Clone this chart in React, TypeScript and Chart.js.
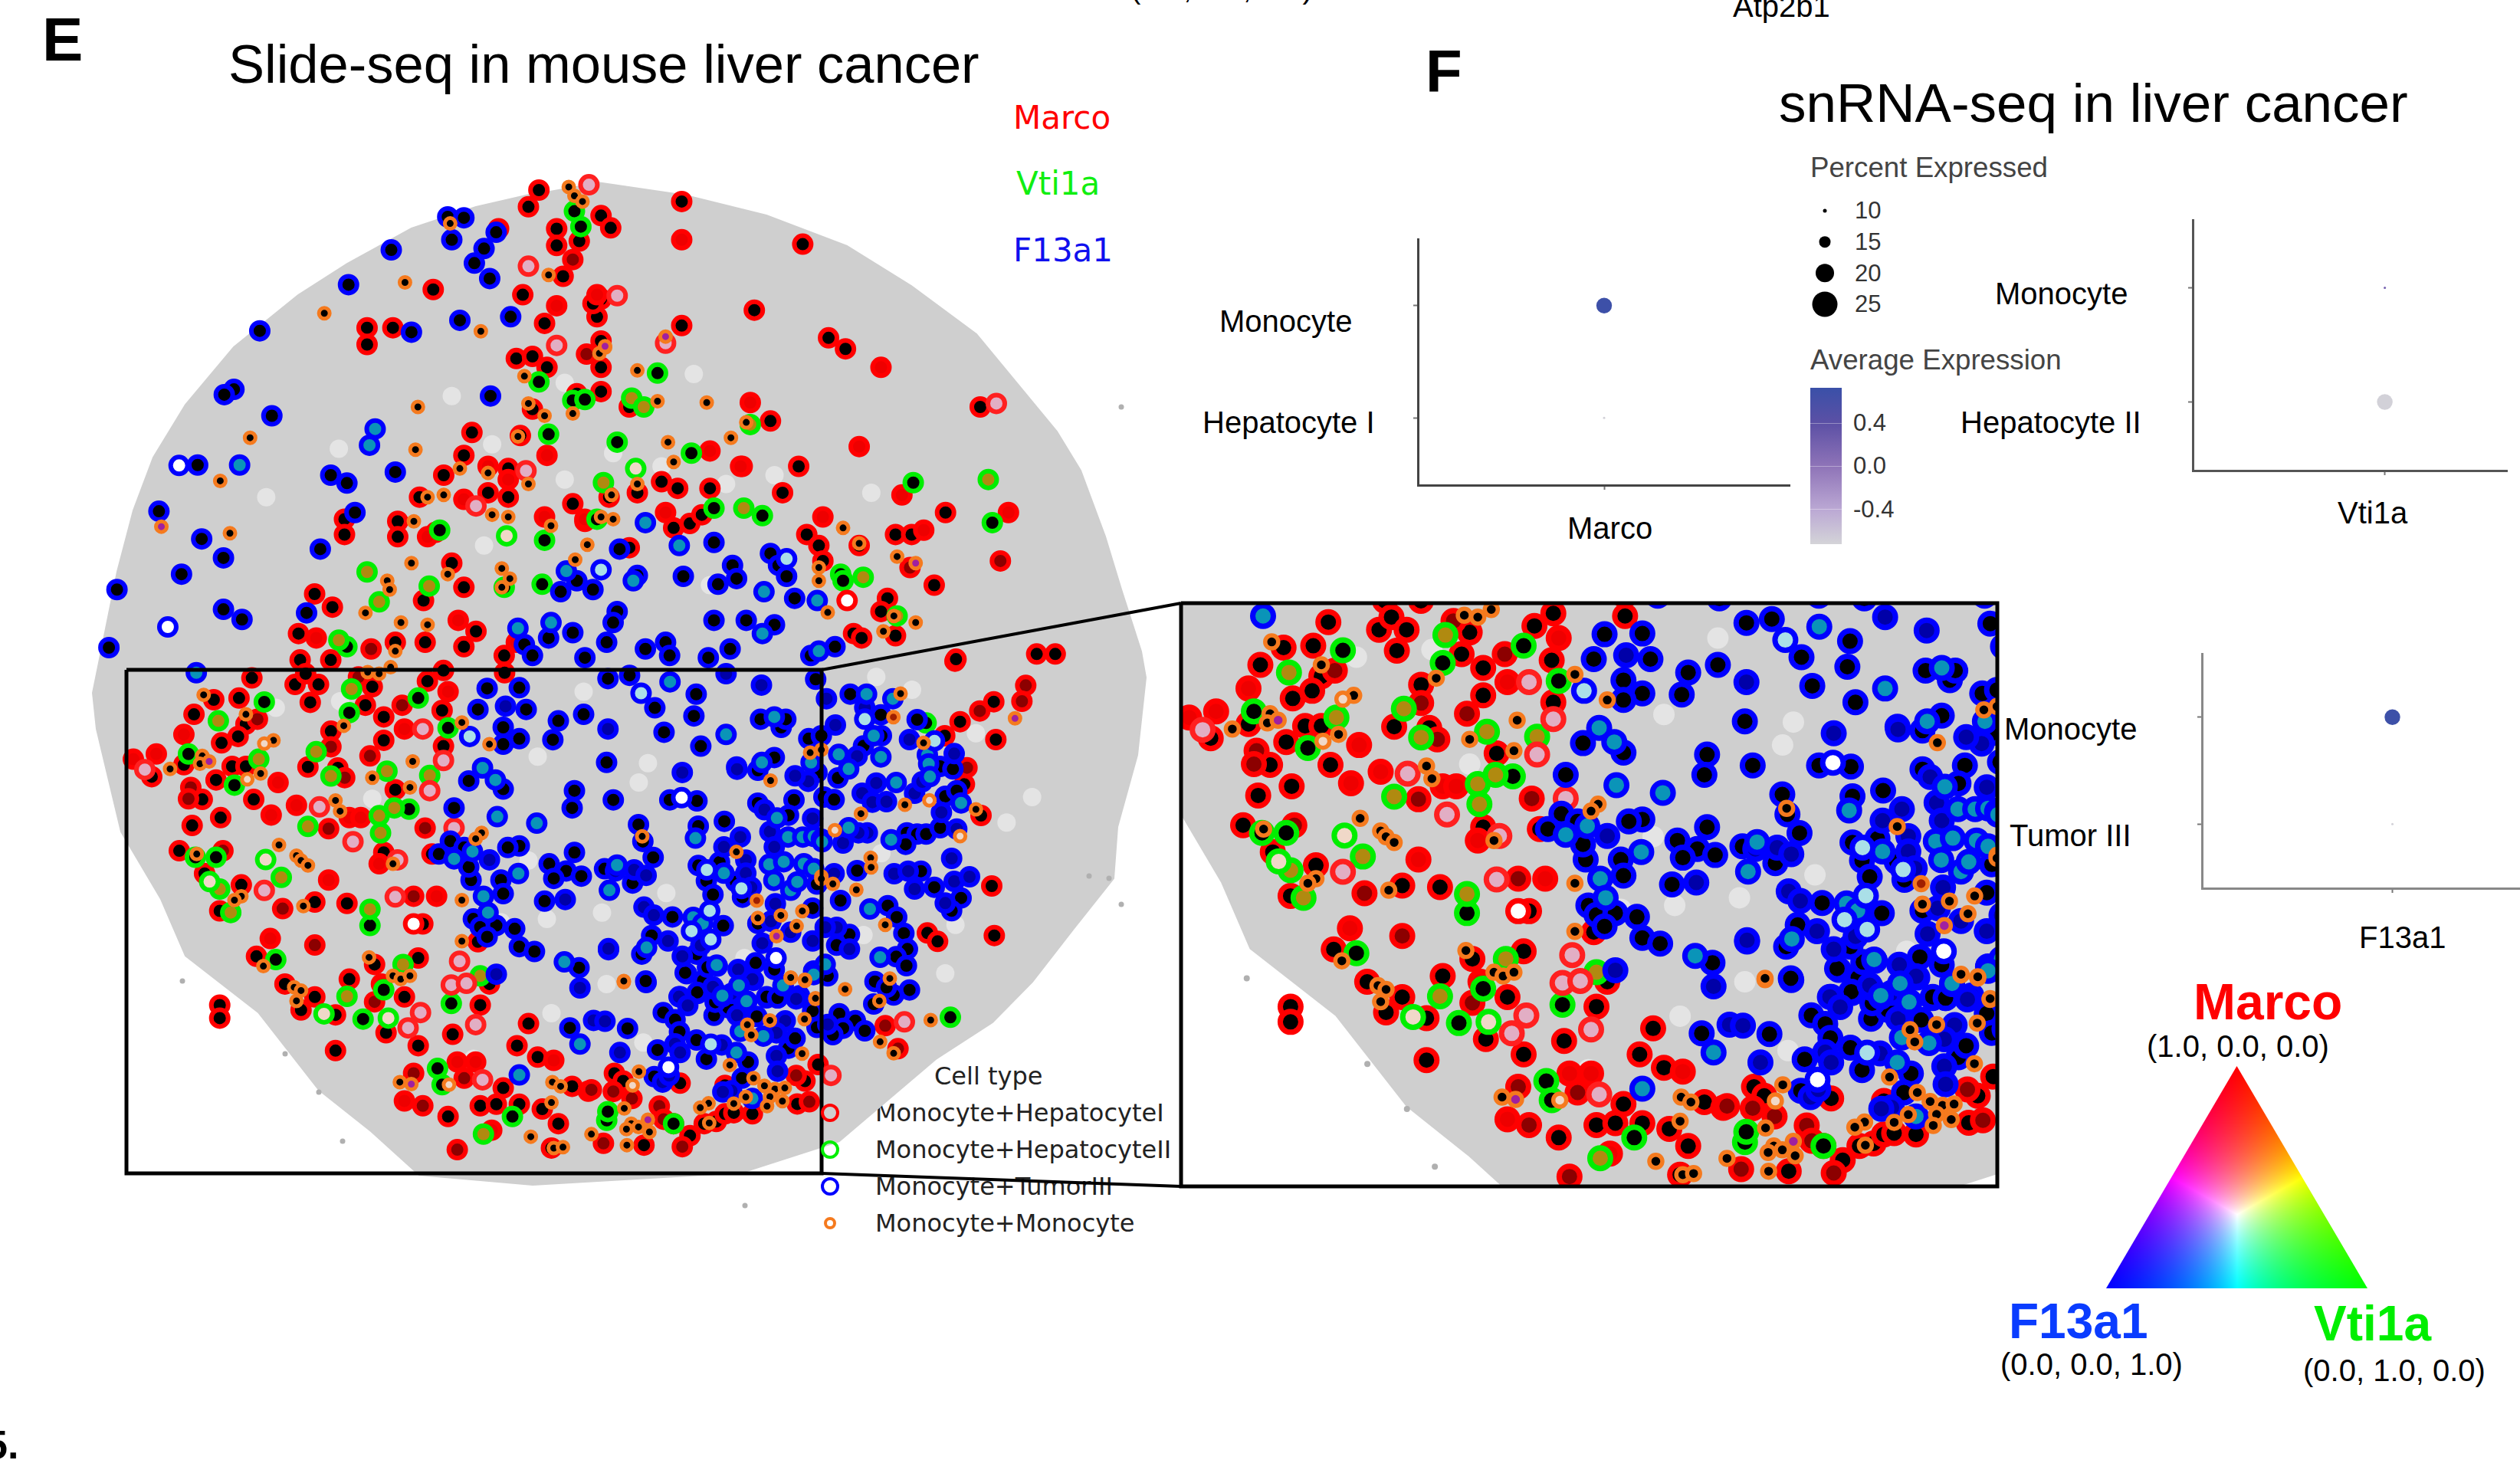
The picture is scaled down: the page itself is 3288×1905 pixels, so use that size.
import React, { useEffect, useRef } from 'react';
import { Chart, registerables } from 'chart.js';
Chart.register(...registerables);

// ---------- readings from the picture (flat x,y lists), grouped by where they were read ----------
const redBlackTop = [668,432,655,470,845,458,745,490,757,518,690,520,690,558,718,548,995,555,618,520,648,670,537,658,698,628,740,720,675,735,845,740,455,745,487,745,455,783,935,705,1027,768,1048,793,640,815,660,810,678,835,745,775,745,835,745,680,735,690,585,983,645,990,990,1060,970,1120,1215,925,955,957,780,925,745,890,715,895,660,930,920,1060,520,1130,605,1120,630,1130,630,1065,575,1035,550,1080,493,1185,493,1220,427,1180,427,1215,540,1210,560,1280,1172,1165,1000,1215,1015,1240,1065,1240,1110,1215,1130,1215,1158,1330,1100,1360,1092,1390,1058,1440,1068,1450,1110,1445,1020,1275,820,1095,840,1110,790,1120,755,1130,835,1200,855,1190,880,1110,870,1170,575,1335,525,1365,390,1350,412,1380,370,1440,410,1500,372,1500,575,1470,590,1435,625,1490,527,1460,490,1460,780,1245,710,1145,725,1185];
const redRedTop = [845,545,690,695,740,670,1092,835,1065,1015,880,1025,918,1060,930,915,1020,1175,1250,1165,1118,1125,1145,1205,568,1410,392,1450,640,1460,675,1175,725,1180,825,1165,575,1135,678,1035,630,1090,605,1060,530,1220];
const redDarkTop = [710,590,727,805,1128,1290,1240,1275,460,1475];
const redPaleTop = [730,420,655,605,765,672,1235,917,652,1070,590,1150,825,780,690,785];
const redWhiteTop = [1050,1365];
const greenBlackTop = [712,480,720,515,815,848,668,868,710,910,725,908,680,987,765,1005,885,1155,945,1172,1132,1097,1230,1188,857,1030,675,1228,672,1328,1042,1305,1045,1320,430,1470,625,1335,740,1180,545,1205];
const greenOliveTop = [783,905,798,925,1225,1090,748,1097,922,1155,455,1300,532,1332,470,1368,1070,1312,420,1455,1112,1400,930,965];
const greenPaleTop = [788,1065,628,1218];
const blueBlackTop = [555,493,575,495,560,545,615,528,600,565,588,598,607,633,485,568,432,647,322,752,570,728,633,720,510,755,290,885,278,897,337,945,608,900,245,1057,490,1073,410,1080,430,1098,440,1165,197,1162,250,1225,277,1268,397,1248,225,1305,145,1340,277,1385,300,1408,380,1393,135,1472,885,1233,768,1248,955,1258,965,1285,908,1285,913,1315,890,1328,847,1310,790,1308,735,1340,695,1345,715,1320,975,1310,985,1360,765,1390,760,1415,710,1438,885,1410,925,1410,960,1420,650,1465,660,1490,680,1450,752,1460,800,1475,825,1460,830,1490,878,1495,905,1475,725,1495,1035,1470,1005,1490];
const blueTealTop = [800,1188,842,1240,465,975,458,1012,297,1057,702,1298,785,1320,947,1345,1013,1365,642,1428,683,1415,945,1440,1015,1480];
const bluePaleTop = [745,1295,975,1270];
const blueWhiteTop = [222,1058,208,1425];
const orangeBlackTop = [705,425,712,445,722,458,558,508,502,642,680,625,402,712,596,753,750,790,743,803,790,842,650,855,518,925,655,917,710,940,876,915,815,912,675,945,925,960,310,995,515,1022,642,992,906,995,828,1005,835,1050,273,1093,605,1075,570,1065,655,1100,550,1125,530,1130,610,1170,630,1175,683,1195,760,1180,745,1175,758,1125,790,1100,285,1212,513,1185,510,1280,728,1238,713,1272,622,1292,632,1315,622,1335,1045,1200,1065,1235,1015,1290,1015,1320,1112,1265,1026,1392,1108,1400,1135,1415,1095,1435,555,1305,480,1320,483,1340,530,1420,497,1415,490,1480,453,1393];
const orangePurpleTop = [200,1197,825,765,750,787,1135,1280];

const redBlackInset = [278,58,372,78,395,45,423,78,540,85,660,68,695,35,828,42,405,133,250,120,195,125,525,142,152,170,565,178,692,158,265,200,248,238,565,250,212,258,450,222,695,268,130,325,235,330,265,330,400,332,465,335,200,372,60,362,590,402,282,432,170,432,210,488,148,512,120,590,565,595,670,600,175,660,255,695,208,775,415,748,485,752,640,920,545,940,490,985,288,915,350,1000,415,1040,385,1080,460,1095,610,1040,715,1155,775,1065,640,1190,880,1122,855,1190,460,1205,570,1150,208,1065,208,1105,770,870,650,815,795,1000,900,1225,825,1320,705,1408,775,1375,810,1370,910,1385,945,1430,975,1315,1070,1275,1045,1335,1130,1500,1205,1310,1090,1300,1300,1420,1290,1440,1230,1475,860,1370,930,1505];
const redRedInset = [130,232,70,292,20,308,610,215,705,100,335,380,375,450,320,480,490,488,515,488,555,630,445,680,680,730,318,860,765,1240,725,1240,610,1360,935,1235,1165,1380,1010,1330,800,1450,1215,1500,1465,1375,1510,1340,1470,1280,1510,1260,560,1000];
const redDarkInset = [290,185,510,55,605,142,535,298,480,365,145,395,140,430,445,522,655,520,215,590,345,768,630,730,415,880,545,1055,740,1290,650,1375,1060,1335,1045,1500,630,1275,725,1510,1490,1365,450,270,1375,745];
const redPaleInset = [45,340,425,455,650,215,695,312,665,405,498,562,305,712,590,732,718,520,730,930,712,1003,745,998,645,1088,618,1135,765,1125,780,1295,595,618];
const redWhiteInset = [630,815];
const greenBlackInset = [305,132,490,165,705,212,240,388,140,292,620,462,535,820,330,925,565,1018,712,1060,520,1108,682,1260,692,1310,845,1408,1050,1420,1190,1435,155,610,200,610,640,120];
const greenOliveInset = [205,190,495,92,418,285,293,308,450,360,572,345,665,358,400,515,555,482,558,535,588,458,342,672,208,708,232,780,535,770,775,975,607,940,485,1038,782,1462,1015,1425];
const greenPaleInset = [308,617,186,685,435,1092,575,1105];
const blueBlackInset = [860,88,1053,60,1100,50,1245,108,1155,150,1240,175,1505,62,790,90,770,155,875,155,945,190,1000,170,1175,225,1255,268,933,248,860,245,825,210,825,262,1050,318,750,375,825,400,980,405,975,458,1063,440,1185,435,1248,440,718,458,1118,515,1247,520,1305,503,1150,615,1095,580,1338,550,1290,590,1385,185,1430,210,1440,185,1415,303,1462,362,1490,385,1375,445,1455,440,1385,390,1490,245,1500,500,1400,530,710,560,685,600,740,580,860,575,835,580,925,630,980,595,962,652,995,668,935,675,820,680,825,722,915,745,1140,670,1105,695,755,680,750,640,1135,770,1190,797,1155,795,1285,730,1300,640,760,800,775,825,810,820,790,855,850,830,860,885,893,900,990,950,1135,1000,1115,860,1150,850,1180,870,1125,915,1215,920,1222,970,1245,1030,1172,1090,1200,1110,1045,1118,1095,1140,970,1135,1160,1208,1210,1195,1245,1180,1268,1230,1285,1105,1305,1180,1300,1010,1275,940,1355,1000,1385,1040,1415,1100,1420,1210,1425,1260,1310,1340,1345,1000,1400,690,1420,640,1470,640,1360,620,1345,770,1400,760,1395,870,1440,870,1490,870,1390,820,1500,800,1480,700,1510,680,1440,1050,1330,1055,1250,1080];
const blueDarkInset = [1053,215,1213,347,1333,332,1387,80,1310,45,830,145,795,618,1110,655,960,740,1053,898,992,1012,810,970,1020,1118,1080,1218,1405,960,1450,530,1500,540,1470,460,1350,610,1420,1240,1440,1000,1370,1040,1300,960,1500,1100,1420,1130];
const blueTealInset = [157,42,1188,70,1310,232,1415,178,780,335,808,372,812,485,898,505,1242,552,1305,665,758,592,718,615,858,660,1072,638,1055,718,782,730,792,780,1240,800,1260,820,1137,888,958,932,992,1185,1288,950,1338,1010,1355,1060,1330,1215,1388,1165,1345,1150,860,1280,1388,318,1495,318,1418,495,1443,555,1403,635,1435,628,1480,635,1412,685,1450,715,1300,1040,1480,555,1497,550,1495,968,1435,1012,1360,1355];
const bluePaleInset = [1125,105,752,238,1268,655,1275,780,1235,838,1275,868];
const blueWhiteInset = [1213,433,1185,1262,1418,925,1275,1190,1340,712];
const orangeBlackInset = [173,110,265,170,325,250,735,195,795,262,478,205,170,298,165,322,100,338,297,352,628,315,540,365,622,395,460,435,470,468,778,535,765,553,585,630,1128,550,1332,598,1493,288,1405,380,337,572,375,605,385,620,400,635,158,600,255,730,240,742,390,760,735,742,735,868,533,918,1377,748,1380,800,1428,795,1475,778,1462,825,303,945,370,1010,385,1020,375,1052,1088,998,585,975,602,985,622,975,1450,988,1480,995,1503,1050,1355,1133,1365,1160,1405,1118,1480,1115,1318,1252,1473,1218,1120,1272,932,1302,950,1315,930,1365,1085,1385,1105,1420,1100,1440,1105,1465,1140,1465,1095,1500,1015,1468,885,1470,935,1505,955,1502,1255,1385,1272,1372,1272,1433,1325,1373,1352,1353,1368,1295,1392,1320,1413,1330,1437,1328,1403,1352,1432,1365,1398,1382,600,1302,530,40,555,45,580,25];
const orangePurpleInset = [625,1308,185,315,1418,855,1480,1150,1140,1420,1080,1485];
const orangePaleInset = [268,370,305,260,707,1310,1105,1315,1500,1160];

// finer readings of the dense blue cluster, upper crop of the inset
const blueBlackA = [110,145,368,145,492,150,225,258,245,335,292,408,498,265,617,243,498,445,535,515,198,525,285,765,565,578,380,680,612,720,770,160,935,145,910,215,595,430,670,520,700,590,1020,640,1040,530,770,710,760,890,445,940,260,980,495,1030,845,920,810,1050,860,1050,520,970,540,910,490,850,240,850,70,460,1040,20,770,10];
const blueDarkA = [425,20,675,5,88,830,250,635,295,672,205,465,260,490,120,470,800,190,825,290,690,315,615,360,845,360,715,420,715,480,740,545,1020,230,850,620,830,700,790,800,920,750,1020,790,360,790,425,860,510,810,750,970,415,1045,1000,60,940,35,570,1010,680,920,960,1040,650,1030];
const blueTealA = [127,443,92,558,485,320,262,820,475,682,518,710,615,480,585,905,857,228,908,315,975,315,1025,312,822,440,888,428,980,437,1025,460,843,513,920,558,950,520,685,995,608,1045,720,1065,885,995,1025,930,1060,325];
const bluePaleA = [537,465,550,652,467,745,555,783,695,550];
const blueWhiteA = [422,135,853,868];
const orangeBlackA = [828,57,242,312,672,383,158,978,770,685,875,673,973,653,947,722,920,960,985,972,1033,1055,1060,495];
const orangeRedA = [765,605];
const orangePurpleA = [855,768];

// lower crop of the inset
const blueBlackB = [438,190,493,280,258,228,338,372,392,405,175,445,412,460,490,498,312,543,535,585,570,385,725,598,297,665,698,672,810,300,860,305,765,390,635,350,575,325,1020,365,910,535,1040,440,940,490];
const blueDarkB = [88,80,20,408,72,412,140,555,392,515,415,555,410,300,450,340,565,255,605,520,675,385,745,220,945,310,895,410,855,465,855,570,860,640,650,730,610,735,335,690,365,660];
const blueTealB = [672,555,690,458,795,480,718,320,683,248,608,295,582,155,885,248,1025,182,745,765];
const bluePaleB = [555,517];
const blueWhiteB = [362,622];
const orangeBlackB = [920,212,985,222,1033,307,158,228,722,428,740,475,825,408,983,402,972,560,642,612,750,672,800,707,848,722,893,717,825,757,882,777,812,800,715,758,660,788,545,787,507,807,548,877,227,642,160,810,192,880,225,895,170,905,275,918,172,978,10,928];
const orangePaleB = [198,705];
const orangePurpleB = [268,862];
const redDarkB = [110,733,10,725,195,765,320,800,340,860,1005,780,65,970,425,985,945,660];
const redBlackB = [115,650,155,685,415,695,620,705,950,790,985,685,250,978,385,880,460,935,525,880,580,870,620,835,745,835,660,830,1045,610];
const greenBlackB = [80,865,85,825,385,880];

// right side of the main map
const blueBlackC = [148,137,268,218,410,237,520,537,370,680,410,685,445,685,365,725,425,830,477,893,582,935,175,828,110,945,145,1078,95,1120,295,965,330,1010,358,1073,372,1135,328,1165,368,1200,245,1262,380,1295,318,1315,105,1388,168,1415,205,1455,120,1445,80,1470,45,540,85,550,100,465,500,660,500,420,550,430,565,515,35,300,270,300,200,340,60,1240,290,1285,240,1350,545,985];
const blueDarkC = [55,155,90,258,205,190,380,315,175,380,195,525,235,560,290,558,250,485,400,525,430,480,555,370,505,600,565,665,120,720,215,680,180,680,545,780,320,840,375,830,400,900,555,870,615,852,520,955,85,840,95,1050,50,1050,145,1135,60,1430];
const blueTealC = [212,137,315,155,240,300,103,373,142,430,268,383,450,375,455,410,328,483,460,460,582,563,308,707,142,660,38,715,225,978,265,1167,50,1195,5,1235];
const bluePaleC = [478,320,205,235];
const redBlackC = [558,8,710,167,578,245,718,315,518,300,595,490,660,612,702,888,450,1072,490,1105,712,1082];
const redDarkC = [835,103,655,203,820,165,605,425,285,1435,335,1525];
const redPaleC = [360,1420];
const greenBlackC = [540,1402,445,250];
const orangeBlackC = [345,135,435,328,362,570,190,605,228,778,230,815,80,880,172,903,285,1040,303,1250,262,1338,128,1292,35,355,640,588,463,1413,265,1498,318,1543,35,860];
const orangeRedC = [317,227];
const orangePaleC = [458,553,88,670,578,693];
const orangePurpleC = [793,232];

const redBlackRight = [1185,15,1285,5,1308,5];
const redPaleRight = [1030,822];

// tissue outline, the stray grey spots, and the visible clearings in the tissue
const tissueX = [779,895,1000,1105,1189,1274,1326,1379,1410,1442,1463,1489,1495,1484,1458,1453,1400,1347,1295,1221,1095,968,695,547,484,416,337,242,210,158,126,121,132,153,174,200,242,305,389,453,537,621,695];
const tissueY = [238,255,281,321,373,436,499,563,614,700,769,850,884,985,1079,1146,1213,1281,1334,1382,1489,1530,1546,1533,1476,1422,1321,1247,1173,1085,951,904,850,746,666,597,528,453,385,344,298,270,253];
const strayX = [1463,972,447,416,1447,1421,1463,238,372];
const strayY = [531,1573,1489,1425,1146,1143,1180,1280,1375];
const clearingInset = [1140,320,540,430,1180,720,820,810,920,800,1040,780,470,130,330,150,1000,100,1120,380,900,300,1050,1000,930,1090,1130,1180,760,1230,880,620,1350,920];
const clearingTop = [700,1090,700,870,860,850,820,1060,760,1030,600,1240,880,1330,610,1010,420,1020,560,900,960,1080,1080,1120,900,1100,330,1130];
const clearingC = [250,70,390,120,640,290,560,1040,200,1080,270,760,520,1230,760,640,860,540];

// snRNA-seq dot plots
const panelGenes = ['Marco', 'Vti1a', 'F13a1'];
const panelCells = [['Monocyte', 'Hepatocyte I'], ['Monocyte', 'Hepatocyte II'], ['Monocyte', 'Tumor III']];
const panelPercent = [[18, 9], [9, 18], [18, 9]];
const panelAverage = [[0.7, -0.7], [0.2, -0.7], [0.7, -0.7]];
const percentTicks = [10, 15, 20, 25];
const percentRadius = [2.5, 7.5, 12, 16.5];
const averageTicks = [0.4, 0.0, -0.4];
const averageStops = [-0.72, -0.4, 0.0, 0.4, 0.73];
const averageColors = ['#d4d4d8', '#bba8d4', '#8f74b8', '#5c50a5', '#3a50a8'];
const cellTypes = ['Monocyte+HepatocyteI', 'Monocyte+HepatocyteII', 'Monocyte+TumorIII', 'Monocyte+Monocyte'];
const cellColors = ['#ff0000', '#00ee00', '#0000ff', '#f57a1e'];
const genes = ['Marco', 'Vti1a', 'F13a1'];
const triangleX = [0.5, 0, 1];
const triangleY = [1, 0, 0];

// ---------- helpers: calibrate each crop's reading units to the map's spatial units ----------
const toPoints = (flat: number[], fx: (v: number) => number, fy: (v: number) => number) => {
  const out: { x: number; y: number }[] = [];
  for (let i = 0; i + 1 < flat.length; i += 2) out.push({ x: fx(flat[i]), y: fy(flat[i + 1]) });
  return out;
};
const topCrop = (f: number[]) => toPoints(f, v => v / 0.95, v => v / 1.742);
const right = (f: number[]) => toPoints(f, v => v / 0.95, v => 850 + v / 1.486);
const wholeInset = (f: number[]) => toPoints(f, v => 162 + v * 0.5995, v => 860 + v * 0.4239);
// the first inset readings are kept only outside the area read again from the finer crops
const inset = (f: number[]) => wholeInset(f).filter(p => !(p.x > 769 && p.y > 1005));
const crop = (f: number[], y0: number) => toPoints(f, v => 165 + (2250 + v / 2.98 - 1541) * 0.8516, v => 863.6 + (y0 + v / 2.98 - 787) * 0.8507);
const A = (f: number[]) => crop(f, 950);
const B = (f: number[]) => crop(f, 1200);
const C = (f: number[]) => toPoints(f, v => 1060 + v / 3, v => 860 + v / 3);

const FULL = 'full', SMALL = 'small';
const marks = [
  { ring: '#ff0000', face: '#000000', size: FULL, data: [...topCrop(redBlackTop), ...inset(redBlackInset), ...B(redBlackB), ...C(redBlackC), ...right(redBlackRight)] },
  { ring: '#ff0000', face: '#ee0000', size: FULL, data: [...topCrop(redRedTop), ...inset(redRedInset)] },
  { ring: '#ff0000', face: '#8c0000', size: FULL, data: [...topCrop(redDarkTop), ...inset(redDarkInset), ...B(redDarkB), ...C(redDarkC)] },
  { ring: '#00ee00', face: '#000000', size: FULL, data: [...topCrop(greenBlackTop), ...inset(greenBlackInset), ...B(greenBlackB), ...C(greenBlackC)] },
  { ring: '#00ee00', face: '#b08a10', size: FULL, data: [...topCrop(greenOliveTop), ...inset(greenOliveInset)] },
  { ring: '#00ee00', face: '#f0d8c8', size: FULL, data: [...topCrop(greenPaleTop), ...inset(greenPaleInset)] },
  { ring: '#ff2020', face: '#e2aec4', size: FULL, data: [...topCrop(redPaleTop), ...inset(redPaleInset), ...C(redPaleC), ...right(redPaleRight)] },
  { ring: '#ff0000', face: '#ffffff', size: FULL, data: [...topCrop(redWhiteTop), ...inset(redWhiteInset)] },
  { ring: '#0000ff', face: '#000000', size: FULL, data: [...topCrop(blueBlackTop), ...inset(blueBlackInset), ...A(blueBlackA), ...B(blueBlackB), ...C(blueBlackC)] },
  { ring: '#0000ff', face: '#0000a8', size: FULL, data: [...inset(blueDarkInset), ...A(blueDarkA), ...B(blueDarkB), ...C(blueDarkC)] },
  { ring: '#0000ff', face: '#0a94b8', size: FULL, data: [...topCrop(blueTealTop), ...inset(blueTealInset), ...A(blueTealA), ...B(blueTealB), ...C(blueTealC)] },
  { ring: '#0000ff', face: '#aadfe8', size: FULL, data: [...topCrop(bluePaleTop), ...inset(bluePaleInset), ...A(bluePaleA), ...B(bluePaleB), ...C(bluePaleC)] },
  { ring: '#0000ff', face: '#ffffff', size: FULL, data: [...topCrop(blueWhiteTop), ...inset(blueWhiteInset), ...A(blueWhiteA), ...B(blueWhiteB)] },
  { ring: '#f57a1e', face: '#000000', size: SMALL, data: [...topCrop(orangeBlackTop), ...inset(orangeBlackInset), ...A(orangeBlackA), ...B(orangeBlackB), ...C(orangeBlackC)] },
  { ring: '#f57a1e', face: '#a02000', size: SMALL, data: [...A(orangeRedA), ...C(orangeRedC)] },
  { ring: '#f57a1e', face: '#a020a0', size: SMALL, data: [...topCrop(orangePurpleTop), ...inset(orangePurpleInset), ...A(orangePurpleA), ...B(orangePurpleB), ...C(orangePurpleC)] },
  { ring: '#f57a1e', face: '#f0d8c8', size: SMALL, data: [...inset(orangePaleInset), ...B(orangePaleB), ...C(orangePaleC)] },
];
const clearings = [...wholeInset(clearingInset), ...topCrop(clearingTop), ...C(clearingC)];

const zip = (xs: number[], ys: number[]) => xs.map((x, i) => ({ x, y: ys[i] }));
const mapDatasets = (big: boolean) => {
  const r = big ? { full: 13.5, small: 8.5, fb: 7, sb: 5.5 } : { full: 11, small: 7, fb: 6, sb: 5 };
  const layers: any[] = [
    { data: zip(tissueX, tissueY), showLine: true, fill: 'shape', backgroundColor: '#cfcfcf', borderColor: '#cfcfcf', borderWidth: 2, pointRadius: 0, tension: 0 },
    { data: zip(strayX, strayY), backgroundColor: '#b0b0b0', borderWidth: 0, pointRadius: big ? 4 : 3.5 },
    { data: clearings, backgroundColor: '#e4e4e4', borderWidth: 0, pointRadius: big ? 14 : 12 },
    ...marks.map(m => ({
      data: m.data, backgroundColor: m.face, borderColor: m.ring,
      pointRadius: m.size === FULL ? r.full : r.small,
      borderWidth: m.size === FULL ? r.fb : r.sb,
    })),
  ];
  return layers;
};

const hidden = (min: number, max: number, reverse = false) => ({ type: 'linear', display: false, min, max, reverse });
const base = (padding = 0) => ({
  responsive: false, animation: false, devicePixelRatio: 1,
  layout: { padding, autoPadding: false },
  plugins: { legend: { display: false }, tooltip: { enabled: false } },
});

const lerpColor = (v: number) => {
  const hex = (c: string) => [1, 3, 5].map(i => parseInt(c.slice(i, i + 2), 16));
  let i = 0;
  while (i < averageStops.length - 2 && v > averageStops[i + 1]) i++;
  const t = Math.max(0, Math.min(1, (v - averageStops[i]) / (averageStops[i + 1] - averageStops[i])));
  const a = hex(averageColors[i]), b = hex(averageColors[i + 1]);
  return `rgb(${a.map((c, k) => Math.round(c + (b[k] - c) * t)).join(',')})`;
};
const radiusFor = (p: number) => {
  if (p <= percentTicks[0] - 1) return 1.5;
  let i = 0;
  while (i < percentTicks.length - 2 && p > percentTicks[i + 1]) i++;
  return percentRadius[i] + (percentRadius[i + 1] - percentRadius[i]) * (p - percentTicks[i]) / (percentTicks[i + 1] - percentTicks[i]);
};

const mainConfig = () => ({
  type: 'scatter',
  data: {
    datasets: [
      { data: [{ x: 165, y: 874 }, { x: 1072, y: 874 }, { x: 1072, y: 1531 }, { x: 165, y: 1531 }, { x: 165, y: 874 }], showLine: true, borderColor: '#000', borderWidth: 5, pointRadius: 0, tension: 0, clip: false },
      { data: [{ x: 1072, y: 874 }, { x: 1541, y: 787 }], showLine: true, borderColor: '#000', borderWidth: 4, pointRadius: 0, clip: false },
      { data: [{ x: 1072, y: 1531 }, { x: 1541, y: 1548 }], showLine: true, borderColor: '#000', borderWidth: 4, pointRadius: 0, clip: false },
      ...mapDatasets(false).reverse(),
    ],
  },
  options: { ...base(), scales: { x: hidden(0, 3288), y: hidden(0, 1905, true) } },
});

const insetConfig = () => ({
  type: 'scatter',
  data: {
    datasets: [
      { data: [{ x: 165, y: 863.6 }, { x: 1072, y: 863.6 }, { x: 1072, y: 1511 }, { x: 165, y: 1511 }, { x: 165, y: 863.6 }], showLine: true, borderColor: '#000', borderWidth: 5, pointRadius: 0, tension: 0, clip: 6 },
      ...mapDatasets(true).reverse(),
    ],
  },
  options: { ...base(4), scales: { x: hidden(165, 1072), y: hidden(863.6, 1511, true) } },
});

const legendConfig = () => ({
  type: 'scatter',
  data: {
    datasets: [{
      data: cellTypes.map((_, i) => ({ x: 0, y: i })),
      backgroundColor: 'rgba(0,0,0,0)',
      borderColor: cellColors,
      pointRadius: cellTypes.map((_, i) => (i === 3 ? 6 : 10)),
      borderWidth: cellTypes.map((_, i) => (i === 3 ? 4 : 4)),
    }],
  },
  options: { ...base(), scales: { x: hidden(-1, 1), y: hidden(-0.458, 3.5, true) } },
});

const dotConfig = (k: number, xMax: number, axisColor: string) => ({
  type: 'scatter',
  data: {
    datasets: [{
      data: panelCells[k].map((_, i) => ({ x: 0, y: 1 - i })),
      backgroundColor: panelAverage[k].map(lerpColor),
      pointRadius: panelPercent[k].map(radiusFor),
      borderWidth: 0,
    }],
  },
  options: {
    ...base(),
    scales: {
      x: {
        type: 'linear', min: -1, max: xMax,
        afterBuildTicks: (s: any) => { s.ticks = [{ value: 0 }]; },
        afterFit: (s: any) => { s.height = 20; },
        ticks: { display: false },
        grid: { drawOnChartArea: false, tickLength: 6, tickColor: '#777', tickWidth: 2 },
        border: { display: true, color: axisColor, width: 3 },
      },
      y: {
        type: 'linear', min: -0.6, max: 1.6,
        afterBuildTicks: (s: any) => { s.ticks = [{ value: 0 }, { value: 1 }]; },
        afterFit: (s: any) => { s.width = 20; },
        ticks: { display: false },
        grid: { drawOnChartArea: false, tickLength: 6, tickColor: '#777', tickWidth: 2 },
        border: { display: true, color: axisColor, width: 3 },
      },
    },
  },
});

const percentConfig = () => ({
  type: 'scatter',
  data: {
    datasets: [{
      data: percentTicks.map(p => ({ x: 0, y: p })),
      backgroundColor: '#000',
      pointRadius: percentTicks.map(radiusFor),
      borderWidth: 0,
    }],
  },
  options: { ...base(), scales: { x: hidden(-1, 1), y: hidden(7.54, 27.83, true) } },
});

const colorbarConfig = () => ({
  type: 'bar',
  data: {
    labels: ['Average Expression'],
    datasets: [{
      data: [[averageStops[0], averageStops[averageStops.length - 1]]],
      categoryPercentage: 1, barPercentage: 1, borderWidth: 0,
      backgroundColor: (c: any) => {
        const { ctx, height } = c.chart;
        const lo = averageStops[0], hi = averageStops[averageStops.length - 1];
        const g = ctx.createLinearGradient(0, height, 0, 0);
        averageStops.forEach((s, i) => g.addColorStop((s - lo) / (hi - lo), averageColors[i]));
        return g;
      },
    }],
  },
  options: {
    ...base(),
    scales: {
      x: { display: false },
      y: {
        type: 'linear', min: averageStops[0], max: averageStops[averageStops.length - 1],
        afterBuildTicks: (s: any) => { s.ticks = averageTicks.map(value => ({ value })); },
        afterFit: (s: any) => { s.width = 0; },
        ticks: { display: false }, border: { display: false },
        grid: { color: 'rgba(255,255,255,0.35)', drawTicks: false, z: 1 },
      },
    },
  },
});

const trianglePlugin = {
  id: 'ternaryFill',
  beforeDatasetsDraw(chart: any) {
    const { ctx, scales: { x, y } } = chart;
    const px = triangleX.map(v => x.getPixelForValue(v));
    const py = triangleY.map(v => y.getPixelForValue(v));
    const w = Math.ceil(chart.width), h = Math.ceil(chart.height);
    const off = document.createElement('canvas');
    off.width = w; off.height = h;
    const oc = off.getContext('2d')!;
    const img = oc.createImageData(w, h);
    const det = (py[1] - py[2]) * (px[0] - px[2]) + (px[2] - px[1]) * (py[0] - py[2]);
    for (let j = 0; j < h; j++) for (let i = 0; i < w; i++) {
      const marco = Math.max(0, ((py[1] - py[2]) * (i - px[2]) + (px[2] - px[1]) * (j - py[2])) / det);
      const f13a1 = Math.max(0, ((py[2] - py[0]) * (i - px[2]) + (px[0] - px[2]) * (j - py[2])) / det);
      const vti1a = Math.max(0, 1 - marco - f13a1);
      const m = Math.max(marco, vti1a, f13a1) || 1;
      const o = (j * w + i) * 4;
      img.data[o] = 255 * marco / m; img.data[o + 1] = 255 * vti1a / m; img.data[o + 2] = 255 * f13a1 / m; img.data[o + 3] = 255;
    }
    oc.putImageData(img, 0, 0);
    ctx.save();
    ctx.beginPath();
    ctx.moveTo(px[0], py[0]); ctx.lineTo(px[1], py[1]); ctx.lineTo(px[2], py[2]); ctx.closePath();
    ctx.clip();
    ctx.drawImage(off, 0, 0);
    ctx.restore();
  },
};
const triangleConfig = () => ({
  type: 'scatter',
  data: { datasets: [{ data: zip(triangleX, triangleY), pointRadius: 0 }] },
  options: { ...base(), scales: { x: hidden(0, 1), y: hidden(0, 1) } },
  plugins: [trianglePlugin],
});

// ---------- components ----------
function Plot({ config, left, top: t, width, height }: any) {
  const ref = useRef<HTMLCanvasElement>(null);
  useEffect(() => {
    const chart = new Chart(ref.current as any, config());
    return () => chart.destroy();
  }, [config]);
  return <canvas ref={ref} width={width} height={height} style={{ position: 'absolute', left, top: t, width, height }} />;
}

const SANS = '"Liberation Sans", Arial, sans-serif';
const DEJA = '"DejaVu Sans", sans-serif';
function T({ x, y, size, color = '#000', bold = false, font = SANS, children }: any) {
  return (
    <div style={{ position: 'absolute', left: x, top: y - 0.3465 * size, lineHeight: 0, fontSize: size, fontFamily: font, fontWeight: bold ? 700 : 400, color, whiteSpace: 'nowrap' }}>
      {children}
    </div>
  );
}

const dot1 = () => dotConfig(0, 1, '#444');
const dot2 = () => dotConfig(1, 0.64, '#555');
const dot3 = () => dotConfig(2, 0.67, '#888');

export default function App() {
  useEffect(() => {
    document.body.style.margin = '0';
    document.body.style.background = '#fff';
  }, []);
  return (
    <div style={{ position: 'absolute', left: 0, top: 0, width: 3288, height: 1905, overflow: 'hidden', background: '#fff' }}>
      <T x={1475} y={-2} size={40}>(0.0, 1.0, 0.0)</T>
      <T x={2261} y={22} size={40}>Atp2b1</T>
      <T x={-19} y={1903} size={52} bold>5.</T>
      <T x={55} y={80} size={80} bold>E</T>
      <T x={298} y={108} size={70.5}>Slide-seq in mouse liver cancer</T>
      <T x={1322} y={169} size={42} font={DEJA} color="#ff0000">{genes[0]}</T>
      <T x={1326} y={255} size={42} font={DEJA} color="#11ee11">{genes[1]}</T>
      <T x={1322} y={342} size={42} font={DEJA} color="#1010ee">{genes[2]}</T>

      <T x={1219} y={1415} size={32} font={DEJA} color="#222">Cell type</T>
      {cellTypes.map((c, i) => (
        <T key={c} x={1142} y={[1463, 1511, 1559, 1607][i]} size={32} font={DEJA} color="#222">{c}</T>
      ))}

      <T x={1860} y={120} size={78} bold>F</T>
      <T x={2321} y={160} size={71}>snRNA-seq in liver cancer</T>

      <T x={1591} y={433} size={40}>{panelCells[0][0]}</T>
      <T x={1569} y={565} size={40}>{panelCells[0][1]}</T>
      <T x={2045} y={703} size={40}>{panelGenes[0]}</T>
      <T x={2603} y={397} size={40}>{panelCells[1][0]}</T>
      <T x={2558} y={565} size={40}>{panelCells[1][1]}</T>
      <T x={3050} y={683} size={40}>{panelGenes[1]}</T>
      <T x={2615} y={965} size={40}>{panelCells[2][0]}</T>
      <T x={2622} y={1104} size={40}>{panelCells[2][1]}</T>
      <T x={3078} y={1237} size={40}>{panelGenes[2]}</T>

      <T x={2362} y={232} size={36.7} color="#444">Percent Expressed</T>
      {percentTicks.map((p, i) => (
        <T key={p} x={2420} y={[286, 327, 368, 408][i]} size={31} color="#333">{p}</T>
      ))}
      <T x={2362} y={483} size={36.7} color="#444">Average Expression</T>
      {averageTicks.map((v, i) => (
        <T key={v} x={2418} y={[563, 619, 676][i]} size={31} color="#333">{v.toFixed(1)}</T>
      ))}

      <T x={2862} y={1330} size={66} bold color="#ff0000">{genes[0]}</T>
      <T x={2801} y={1379} size={40}>(1.0, 0.0, 0.0)</T>
      <T x={2621} y={1746} size={64} bold color="#0a3cff">{genes[2]}</T>
      <T x={2610} y={1794} size={40}>(0.0, 0.0, 1.0)</T>
      <T x={3019} y={1749} size={64} bold color="#00ee00">{genes[1]}</T>
      <T x={3005} y={1802} size={40}>(0.0, 1.0, 0.0)</T>

      <Plot config={mainConfig} left={0} top={0} width={3288} height={1905} />
      <Plot config={legendConfig} left={1060} top={1430} width={46} height={190} />
      <Plot config={insetConfig} left={1537} top={783} width={1073} height={769} />
      <Plot config={dot1} left={1830} top={311} width={506} height={342} />
      <Plot config={dot2} left={2841} top={286} width={431} height={348} />
      <Plot config={dot3} left={2853} top={852} width={435} height={327} />
      <Plot config={percentConfig} left={2351} top={255} width={60} height={165} />
      <Plot config={colorbarConfig} left={2362} top={506} width={41} height={204} />
      <Plot config={triangleConfig} left={2748} top={1391} width={341} height={290} />
    </div>
  );
}
